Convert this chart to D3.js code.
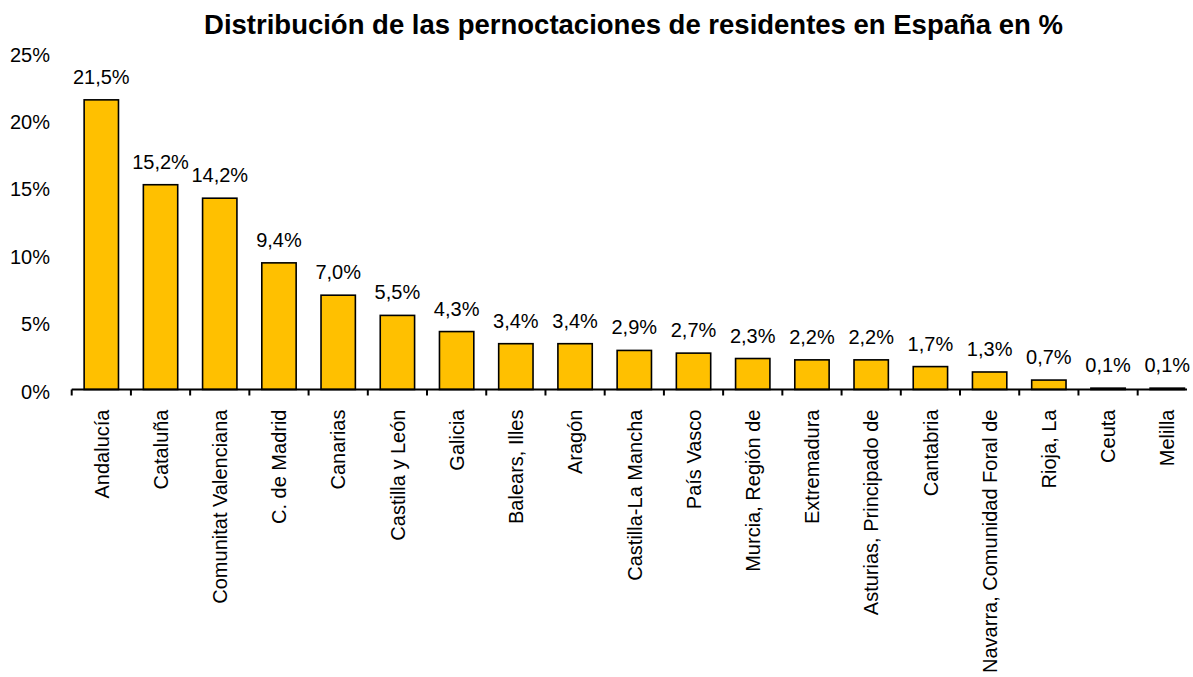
<!DOCTYPE html>
<html>
<head>
<meta charset="utf-8">
<script src="https://cdn.jsdelivr.net/npm/d3@7"></script>
<style>
  html, body { margin: 0; padding: 0; background: #fff; }
  svg { display: block; }
  text { font-family: "Liberation Sans", Arial, sans-serif; fill: #000; }
</style>
</head>
<body>
<svg id="chart" width="1193" height="677"></svg>
<script>
const categories = ["Andalucía", "Cataluña", "Comunitat Valenciana", "C. de Madrid", "Canarias",
  "Castilla y León", "Galicia", "Balears, Illes", "Aragón", "Castilla-La Mancha", "País Vasco",
  "Murcia, Región de", "Extremadura", "Asturias, Principado de", "Cantabria",
  "Navarra, Comunidad Foral de", "Rioja, La", "Ceuta", "Melilla"];
const values = [21.5, 15.2, 14.2, 9.4, 7.0, 5.5, 4.3, 3.4, 3.4, 2.9, 2.7, 2.3, 2.2, 2.2, 1.7, 1.3, 0.7, 0.1, 0.1];
const yTicks = [0, 5, 10, 15, 20, 25];
const title = "Distribución de las pernoctaciones de residentes en España en %";

const svg = d3.select("#chart");
const x = d3.scaleBand().domain(categories).range([71.7, 1196.9]).paddingInner(0.42).paddingOuter(0.21);
const y = d3.scaleLinear().domain([0, 25]).range([389.5, 52.7]);
const fmt = v => d3.format(".1f")(v).replace(".", ",") + "%";

// title
svg.append("text")
  .attr("x", 633.5).attr("y", 33.5)
  .attr("text-anchor", "middle")
  .style("font-size", "27.5px").style("font-weight", "bold")
  .text(title);

// y tick labels (no axis line)
svg.append("g").selectAll("text").data(yTicks).join("text")
  .attr("x", 50).attr("y", d => y(d))
  .attr("dy", "0.45em")
  .attr("text-anchor", "end")
  .style("font-size", "20px")
  .text(d => d + "%");

// bars
svg.append("g").selectAll("rect").data(values).join("rect")
  .attr("x", (d, i) => x(categories[i]))
  .attr("width", x.bandwidth())
  .attr("y", d => y(d))
  .attr("height", d => y(0) - y(d))
  .attr("fill", "#FFC000")
  .attr("stroke", "#000")
  .attr("stroke-width", 1.6);

// value labels
svg.append("g").selectAll("text").data(values).join("text")
  .attr("x", (d, i) => x(categories[i]) + x.bandwidth() / 2)
  .attr("y", d => y(d) - 16)
  .attr("text-anchor", "middle")
  .style("font-size", "20px")
  .text(d => fmt(d));

// category axis
const step = x.step();
const x0 = x.range()[0];
const ax = svg.append("g");
ax.append("line")
  .attr("x1", x0).attr("x2", 1187)
  .attr("y1", y(0)).attr("y2", y(0))
  .attr("stroke", "#000").attr("stroke-width", 2);
ax.selectAll("line.tick").data(d3.range(categories.length + 1)).join("line")
  .attr("class", "tick")
  .attr("x1", i => x0 + i * step).attr("x2", i => x0 + i * step)
  .attr("y1", y(0)).attr("y2", y(0) + 6)
  .attr("stroke", "#000").attr("stroke-width", 2);

const labelAxis = d3.axisBottom(x).tickSize(0).tickPadding(0);
const g = svg.append("g").attr("transform", `translate(0,${y(0)})`).call(labelAxis);
g.select(".domain").remove();
g.selectAll(".tick text")
  .attr("transform", "translate(0,20) rotate(-90)")
  .attr("x", 0).attr("y", 0)
  .attr("dy", "0.36em")
  .attr("text-anchor", "end")
  .style("font-size", "20px")
  .style("font-family", '"Liberation Sans", Arial, sans-serif')
  .attr("fill", "#000");
</script>
</body>
</html>
